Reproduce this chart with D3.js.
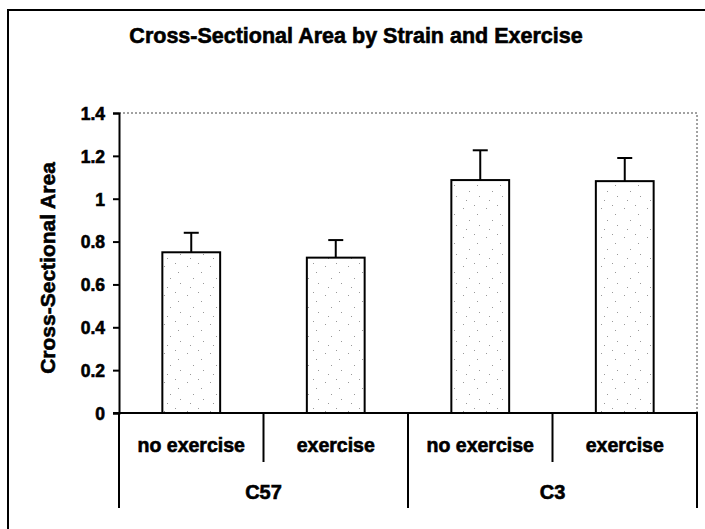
<!DOCTYPE html>
<html>
<head>
<meta charset="utf-8">
<script src="https://cdn.jsdelivr.net/npm/d3@7"></script>
<style>
  html, body { margin: 0; padding: 0; background: #fff; }
  svg { display: block; }
  text {
    font-family: "Liberation Sans", Arial, Helvetica, sans-serif;
    font-weight: bold;
    fill: #000;
    stroke: #000;
    stroke-width: 0.6px;
  }
</style>
</head>
<body>
<div id="chart"></div>
<script>
// Cross-sectional area, bars with upward error bars

const strains    = ["C57", "C3"];
const conditions = ["no exercise", "exercise"];
const barKeys    = ["C57-no", "C57-ex", "C3-no", "C3-ex"];
const barLabels  = ["no exercise", "exercise", "no exercise", "exercise"];
const meanValues = [0.75, 0.725, 1.087, 1.082];
const errValues  = [0.091, 0.082, 0.139, 0.108];
const yTicks     = [0, 0.2, 0.4, 0.6, 0.8, 1, 1.2, 1.4];
const yTickLabels = ["0", "0.2", "0.4", "0.6", "0.8", "1", "1.2", "1.4"];

const width = 705;
const height = 529;
const plot = { left: 119, right: 697, top: 113, bottom: 413 };

const svg = d3.select("#chart")
  .append("svg")
  .attr("width", width)
  .attr("height", height);

// petit motif pointillé (grain du scan) pour les barres
const defs = svg.append("defs");
const pat = defs.append("pattern")
  .attr("id", "speckle")
  .attr("patternUnits", "userSpaceOnUse")
  .attr("width", 23)
  .attr("height", 29);
pat.append("rect").attr("width", 23).attr("height", 29).attr("fill", "#fff");
[[3, 5], [14, 2], [9, 17], [19, 22], [6, 26], [17, 11]].forEach(p => {
  pat.append("rect")
    .attr("x", p[0]).attr("y", p[1])
    .attr("width", 1).attr("height", 1)
    .attr("fill", "#999");
});

// cadre extérieur (coupé à droite et en bas)
svg.append("rect")
  .attr("x", 8)
  .attr("y", 10)
  .attr("width", 740)
  .attr("height", 560)
  .attr("fill", "none")
  .attr("stroke", "#000")
  .attr("stroke-width", 2);

// Titre
svg.append("text")
  .attr("x", 356)
  .attr("y", 43)
  .attr("text-anchor", "middle")
  .style("font-size", "21.5px")
  .text("Cross-Sectional Area by Strain and Exercise");

// Echelles
const x = d3.scaleBand()
  .domain(barKeys)
  .range([plot.left, plot.right])
  .padding(0);

const xGroup = d3.scaleBand()
  .domain(strains)
  .range([plot.left, plot.right])
  .padding(0);

const y = d3.scaleLinear()
  .domain([0, 1.4])
  .range([plot.bottom, plot.top]);

// bord pointillé du cadre du graphique (haut et droite)
svg.append("path")
  .attr("d", `M${plot.left},${y(1.4)}H${plot.right}V${y(0)}`)
  .attr("fill", "none")
  .attr("stroke", "#444")
  .attr("stroke-width", 1)
  .attr("stroke-dasharray", "2,2");

// Barres
const barW = x.bandwidth() * 0.4;
const bars = svg.append("g");
bars.selectAll("rect")
  .data(meanValues)
  .join("rect")
  .attr("x", (d, i) => x(barKeys[i]) + (x.bandwidth() - barW) / 2)
  .attr("y", d => y(d))
  .attr("width", barW)
  .attr("height", d => y(0) - y(d))
  .attr("fill", "url(#speckle)")
  .attr("stroke", "#000")
  .attr("stroke-width", 2);

// Barres d'erreur (vers le haut seulement)
const capW = 15;
const errs = svg.append("g").attr("stroke", "#000").attr("stroke-width", 2);
meanValues.forEach((m, i) => {
  const cx = x(barKeys[i]) + x.bandwidth() / 2;
  errs.append("line")
    .attr("x1", cx).attr("x2", cx)
    .attr("y1", y(m)).attr("y2", y(m + errValues[i]));
  errs.append("line")
    .attr("x1", cx - capW / 2).attr("x2", cx + capW / 2)
    .attr("y1", y(m + errValues[i])).attr("y2", y(m + errValues[i]));
});

// Axe Y
const yAxis = d3.axisLeft(y)
  .tickValues(yTicks)
  .tickFormat((d, i) => yTickLabels[i])
  .tickSize(6)
  .tickPadding(8);

const gy = svg.append("g")
  .attr("transform", `translate(${plot.left},0)`)
  .call(yAxis);
gy.select(".domain").attr("stroke-width", 2);
gy.selectAll(".tick line").attr("stroke-width", 2);
gy.selectAll(".tick text")
  .attr("font-family", null)
  .attr("fill", null)
  .style("font-size", "17.5px")
  .attr("dy", "0.36em");

// Axe X : ligne de base
svg.append("line")
  .attr("x1", plot.left - 6)
  .attr("x2", plot.right + 1)
  .attr("y1", y(0))
  .attr("y2", y(0))
  .attr("stroke", "#000")
  .attr("stroke-width", 2);

// séparateurs des conditions
const innerEdges = [x(barKeys[1]), x(barKeys[3])];
svg.append("g").selectAll("line")
  .data(innerEdges)
  .join("line")
  .attr("x1", d => d).attr("x2", d => d)
  .attr("y1", y(0)).attr("y2", y(0) + 49)
  .attr("stroke", "#000")
  .attr("stroke-width", 2);

// séparateurs des souches
const groupEdges = strains.map(s => xGroup(s)).concat([plot.right]);
svg.append("g").selectAll("line")
  .data(groupEdges)
  .join("line")
  .attr("x1", d => d).attr("x2", d => d)
  .attr("y1", y(0)).attr("y2", y(0) + 95)
  .attr("stroke", "#000")
  .attr("stroke-width", 2);

// libellés des conditions
svg.append("g").selectAll("text")
  .data(barLabels)
  .join("text")
  .attr("x", (d, i) => x(barKeys[i]) + x.bandwidth() / 2)
  .attr("y", 452)
  .attr("text-anchor", "middle")
  .style("font-size", "19.5px")
  .text(d => d);

// libellés des souches
svg.append("g").selectAll("text")
  .data(strains)
  .join("text")
  .attr("x", d => xGroup(d) + xGroup.bandwidth() / 2)
  .attr("y", 499)
  .attr("text-anchor", "middle")
  .style("font-size", "20px")
  .text(d => d);

// Titre axe Y
svg.append("text")
  .attr("transform", "translate(55,268) rotate(-90)")
  .attr("text-anchor", "middle")
  .style("font-size", "21px")
  .text("Cross-Sectional Area");
</script>
</body>
</html>
